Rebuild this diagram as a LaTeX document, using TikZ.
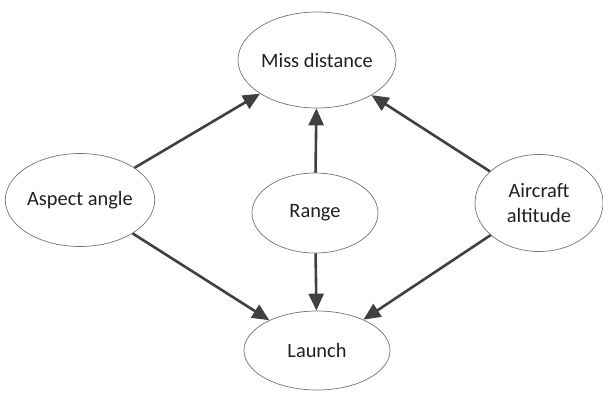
\documentclass[tikz,border=0pt]{standalone}
\usepackage{fontspec}
\setmainfont{Carlito}
\usetikzlibrary{shapes.geometric,arrows.meta}
\begin{document}
\begin{tikzpicture}[x=1pt,y=-1pt,
  bubble/.style={ellipse,draw=black!55,line width=0.7pt,inner sep=0pt,
    text=black!88,font=\fontsize{20.4}{24.5}\selectfont,align=center},
  link/.style={draw=black!75,line width=2.6pt,
    -{Triangle[length=17pt,width=15pt]}}]
\useasboundingbox (0,0) rectangle (603,392);
\node[bubble,minimum width=146pt,minimum height=96pt] (miss) at (317,60) {Miss distance};
\node[bubble,minimum width=144pt,minimum height=93pt] (aspect) at (80,200) {Aspect angle};
\node[bubble,minimum width=126pt,minimum height=80pt] (range) at (315,213) {Range};
\node[bubble,minimum width=128pt,minimum height=97pt] (alt) at (539,203) {Aircraft\\altitude};
\node[bubble,minimum width=146pt,minimum height=79pt] (launch) at (317,350.5) {Launch};
\draw[link] (aspect) -- (miss);
\draw[link] (range) -- (miss);
\draw[link] (alt) -- (miss);
\draw[link] (aspect) -- (launch);
\draw[link] (range) -- (launch);
\draw[link] (alt) -- (launch);
\end{tikzpicture}
\end{document}
